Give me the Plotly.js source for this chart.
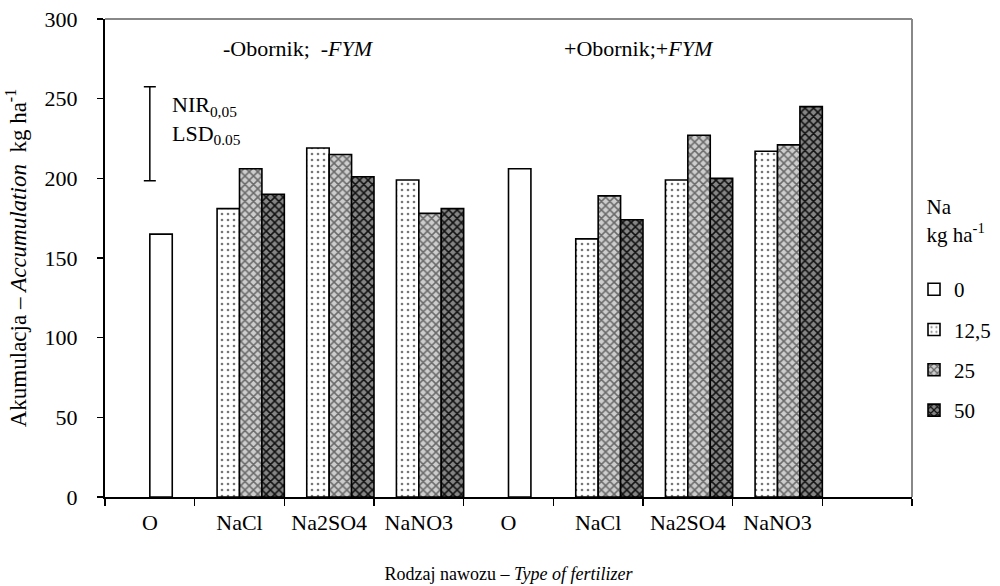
<!DOCTYPE html>
<html>
<head>
<meta charset="utf-8">
<script src="https://cdn.plot.ly/plotly-3.0.1.min.js"></script>
<style>html,body{margin:0;padding:0;background:#fff}#chart{width:1000px;height:586px}</style>
</head>
<body>
<div id="chart"></div>
<script>
// ---- data ----
const categories = ['O', 'NaCl', 'Na2SO4', 'NaNO3', 'O', 'NaCl', 'Na2SO4', 'NaNO3', ''];
const seriesNames = ['0', '12,5', '25', '50'];
const na0   = [165, null, null, null, 206, null, null, null, null];
const na125 = [null, 181, 219, 199, null, 162, 199, 217, null];
const na25  = [null, 206, 215, 178, null, 189, 227, 221, null];
const na50  = [null, 190, 201, 181, null, 174, 200, 245, null];
const lsdCategoryIndex = 0;
const lsdCenter = 228;
const lsdHalf = 29.5;
const yTicks = [0, 50, 100, 150, 200, 250, 300];

const xs = categories.map((c, i) => i);
const FONT = "'Liberation Serif', 'Times New Roman', Times, serif";
const W = 0.25;

function barTrace(name, vals, offset, fill, pattern) {
  const t = {
    type: 'bar', name: name, x: xs, y: vals,
    offset: offset, width: W,
    legendgroup: name,
    marker: {color: fill, line: {color: '#000', width: 1.6}},
    hoverinfo: 'y'
  };
  if (pattern) t.marker.pattern = pattern;
  return t;
}

const traces = [
  barTrace(seriesNames[0], na0, 0, '#fff', null),
  barTrace(seriesNames[1], na125, -W, '#fff', {shape: '.', bgcolor: '#fff', fgcolor: '#777', size: 6, solidity: 0.15, fillmode: 'replace'}),
  barTrace(seriesNames[2], na25, 0, '#c8c8c8', {shape: 'x', bgcolor: '#cdcdcd', fgcolor: '#6a6a6a', size: 6, solidity: 0.45, fillmode: 'replace'}),
  barTrace(seriesNames[3], na50, W, '#808080', {shape: 'x', bgcolor: '#858585', fgcolor: '#111', size: 6, solidity: 0.45, fillmode: 'replace'}),
  {
    type: 'scatter', mode: 'markers', x: [xs[lsdCategoryIndex]], y: [lsdCenter],
    marker: {size: 1, color: 'rgba(0,0,0,0)'}, showlegend: false, hoverinfo: 'skip',
    error_y: {type: 'data', array: [lsdHalf], symmetric: true, color: '#000', thickness: 1.5, width: 6}
  }
];

const layout = {
  width: 1000, height: 586,
  margin: {l: 105, r: 88, t: 19, b: 89},
  paper_bgcolor: '#fff', plot_bgcolor: '#fff',
  font: {family: FONT, size: 21, color: '#000'},
  barmode: 'overlay',
  showlegend: true,
  legend: {
    xref: 'container', yref: 'container',
    x: 0.914, xanchor: 'left', y: 0.6806, yanchor: 'top',
    title: {text: '\u00a0\u00a0Na<br>\u00a0\u00a0kg ha<sup>-1</sup><br><span style="font-size:11px"> </span>', font: {family: FONT, size: 21}},
    font: {family: FONT, size: 21},
    traceorder: 'grouped', tracegroupgap: 10,
    itemwidth: 30, bgcolor: 'rgba(0,0,0,0)'
  },
  xaxis: {
    range: [-0.5, 8.5], tickmode: 'array', tickvals: xs, ticktext: categories,
    ticks: '', ticklen: 0, ticklabelstandoff: 5,
    showline: true, linecolor: '#000', linewidth: 2, showgrid: false, zeroline: false,
    minor: {tick0: -0.5, dtick: 1, ticks: 'outside', ticklen: 7, tickwidth: 1.5, tickcolor: '#000', showgrid: false},
    tickfont: {family: FONT, size: 22},
    title: {text: 'Rodzaj nawozu – <i>Type of fertilizer</i>', font: {family: FONT, size: 18}, standoff: 33},
    fixedrange: true
  },
  yaxis: {
    range: [0, 300], tickmode: 'array', tickvals: yTicks,
    ticks: 'outside', ticklen: 6, tickwidth: 1.5, tickcolor: '#000', ticklabelstandoff: 15,
    showline: true, linecolor: '#000', linewidth: 2, showgrid: false, zeroline: false,
    tickfont: {family: FONT, size: 22},
    title: {text: 'Akumulacja – <i>Accumulation</i>  kg ha<sup>-1</sup>', font: {family: FONT, size: 23}, standoff: 12},
    fixedrange: true
  },
  shapes: [
    {type: 'line', xref: 'paper', yref: 'paper', x0: 0, x1: 1, y0: 1, y1: 1, line: {color: '#888', width: 2}},
    {type: 'line', xref: 'paper', yref: 'paper', x0: 1, x1: 1, y0: 0, y1: 1, line: {color: '#888', width: 2}}
  ],
  annotations: [
    {xref: 'paper', yref: 'paper', x: 0.24, y: 0.939, xanchor: 'center', yanchor: 'middle', text: '-Obornik;  -<i>FYM</i>', showarrow: false, font: {family: FONT, size: 22}},
    {xref: 'paper', yref: 'paper', x: 0.662, y: 0.939, xanchor: 'center', yanchor: 'middle', text: '+Obornik;+<i>FYM</i>', showarrow: false, font: {family: FONT, size: 22}},
    {xref: 'paper', yref: 'paper', x: 0.08, y: 0.788, xanchor: 'left', yanchor: 'middle', align: 'left', text: 'NIR<sub>0,05</sub><br>LSD<sub>0.05</sub>', showarrow: false, font: {family: FONT, size: 22}}
  ]
};

Plotly.newPlot('chart', traces, layout, {displayModeBar: false, staticPlot: true});
</script>
</body>
</html>
